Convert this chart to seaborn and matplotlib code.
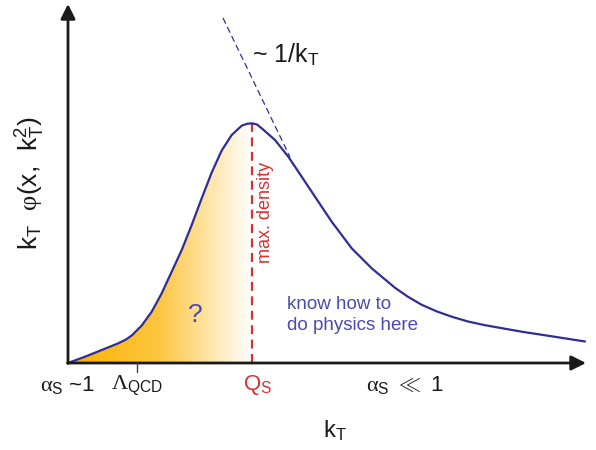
import numpy as np
import pandas as pd
import matplotlib
matplotlib.use("Agg")
import matplotlib.pyplot as plt
from matplotlib.colors import LinearSegmentedColormap
import seaborn as sns

# ---- data (schematic) ----
kt = [0.00, 0.17, 0.337, 0.503, 0.58, 0.637, 0.737, 0.837, 0.937, 1.037, 1.137, 1.237,
      1.337, 1.437, 1.537, 1.637, 1.737, 1.79, 1.837, 1.89, 1.937, 2.07, 2.203,
      2.337, 2.47, 2.637, 2.837, 3.037, 3.27, 3.40, 3.537, 3.69, 3.837, 4.0, 4.17,
      4.537, 4.87, 5.17]
phi = [0.00, 0.063, 0.13, 0.197, 0.235, 0.275, 0.375, 0.513, 0.697, 0.913, 1.13, 1.38,
       1.647, 1.905, 2.125, 2.28, 2.373, 2.392, 2.397, 2.385, 2.347, 2.23, 2.063,
       1.863, 1.663, 1.413, 1.147, 0.947, 0.752, 0.662, 0.582, 0.515, 0.463, 0.415, 0.378,
       0.313, 0.262, 0.215]
asym_kt = [1.55, 2.22]
asym_phi = [3.45, 2.06]
q_s = 1.837
lambda_qcd = 0.69

sns.set_style("white")
plt.rcParams['font.family'] = ['Liberation Sans', 'DejaVu Sans']
plt.rcParams['mathtext.fontset'] = 'custom'
plt.rcParams['mathtext.rm'] = 'Liberation Serif'
plt.rcParams['mathtext.it'] = 'Liberation Serif'
plt.rcParams['mathtext.sf'] = 'Liberation Sans'

BLUE = '#2e2e96'
TBLUE = '#4a4ab0'
RED = '#d8302e'
BLACK = '#1a1a1a'

fig = plt.figure(figsize=(5.96, 4.5), dpi=100)
ax = fig.add_axes([0, 0, 1, 1])

df = pd.DataFrame({'kt': kt, 'phi': phi})

# gradient fill below curve up to Q_s
sub = df[df.kt <= q_s + 1e-9]
poly = ax.fill_between(sub.kt, sub.phi, 0, facecolor='none', edgecolor='none')
cmap = LinearSegmentedColormap.from_list('og', ['#fbb200', '#fdc640', '#ffffff'])
grad = np.linspace(0, 1, 256).reshape(1, -1)
im = ax.imshow(grad, extent=[0, q_s, 0, max(phi) + 0.05], cmap=cmap, aspect='auto',
               origin='lower', zorder=1, interpolation='bilinear')
im.set_clip_path(poly.get_paths()[0], transform=ax.transData)

# curve
sns.lineplot(data=df, x='kt', y='phi', ax=ax, color=BLUE, lw=1.6, sort=False, zorder=3)

# asymptote
ax.plot(asym_kt, asym_phi, color=BLUE, lw=0.9, dashes=(5, 3), zorder=3)

# Q_s line
ax.plot([q_s, q_s], [0, max(phi)], color=RED, lw=1.6, dashes=(4, 2.5), zorder=2)

ax.set_xlim(-0.68, 5.28)
ax.set_ylim(-0.87, 3.63)
ax.axis('off')

# axes arrows
ax.annotate('', xy=(5.18, 0), xytext=(-0.005, 0),
            arrowprops=dict(arrowstyle='-|>', lw=2.0, color=BLACK, mutation_scale=22,
                            shrinkA=0, shrinkB=0), zorder=4)
ax.annotate('', xy=(0, 3.59), xytext=(0, -0.005),
            arrowprops=dict(arrowstyle='-|>', lw=2.0, color=BLACK, mutation_scale=22,
                            shrinkA=0, shrinkB=0), zorder=4)

# Lambda tick
ax.plot([lambda_qcd, lambda_qcd], [0.01, -0.09], color='#444444', lw=1.0, zorder=4)

# labels
ax.text(0.0, -0.22, r'$\alpha_{\mathsf{S}}$ ~1', ha='center', va='center',
        fontsize=16, color=BLACK)
ax.text(lambda_qcd, -0.22, r'$\Lambda_{\mathsf{QCD}}$', ha='center', va='center',
        fontsize=16, color=BLACK)
ax.text(q_s + 0.06, -0.22, r'Q$_{\mathsf{S}}$', ha='center', va='center',
        fontsize=16, color=RED)
ax.text(3.37, -0.22, r'$\alpha_{\mathsf{S}}$ $\ll$ 1', ha='center', va='center',
        fontsize=16, color=BLACK)
ax.text(2.67, -0.68, r'k$_{\mathsf{T}}$', ha='center', va='center', fontsize=17, color=BLACK)
ax.text(-0.38, 1.80, r'k$_{\mathsf{T}}$  $\varphi$(x,  k$_{\mathsf{T}}^{\mathsf{2}}$)',
        ha='center', va='center', fontsize=19, rotation=90, color=BLACK)
ax.text(1.84, 3.08, r'~ 1/k$_{\mathsf{T}}$', ha='left', va='center', fontsize=18, color=BLACK)
ax.text(2.19, 0.48, 'know how to\ndo physics here', ha='left', va='center',
        fontsize=13.5, color=TBLUE, linespacing=1.3)
ax.text(1.27, 0.48, '?', ha='center', va='center', fontsize=19, color=TBLUE)
ax.text(1.97, 1.51, 'max. density', ha='center', va='center', rotation=90,
        fontsize=13, color=RED)

fig.savefig('out.png', dpi=100)
